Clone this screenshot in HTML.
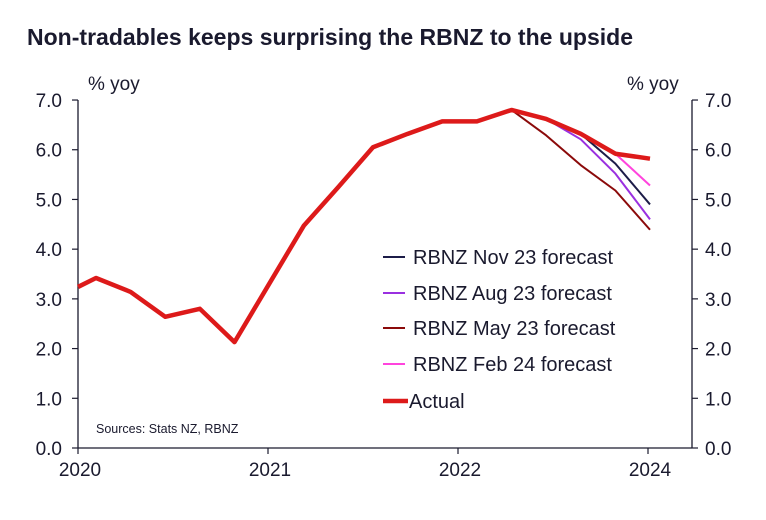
<!DOCTYPE html>
<html><head><meta charset="utf-8"><style>
body{margin:0;background:#fff;}
svg text{font-family:"Liberation Sans",sans-serif;fill:#1a1a2e;}
</style></head><body>
<svg width="766" height="515" viewBox="0 0 766 515" id="c">
<text x="27" y="45" font-size="23" style="font-weight:600" textLength="606" lengthAdjust="spacing">Non-tradables keeps surprising the RBNZ to the upside</text>
<text x="88" y="90" font-size="19">% yoy</text>
<text x="627" y="90" font-size="19">% yoy</text>
<text x="96" y="433" font-size="12.5">Sources: Stats NZ, RBNZ</text>
<g id="axes"></g><g id="lines"></g><g id="legend"></g>
</svg>
<script>
const quarterIdx=[-0.52,0,1,2,3,4,5,6,7,8,9,10,11,12,13,14,15,16];
const actual=[3.24,3.42,3.14,2.64,2.80,2.13,3.3,4.47,5.25,6.05,6.32,6.57,6.57,6.8,6.62,6.32,5.92,5.82];
const mayIdx=[12,13,14,15,16], mayVals=[6.8,6.29,5.69,5.18,4.39];
const augIdx=[13,14,15,16], augVals=[6.62,6.21,5.52,4.6];
const novIdx=[14,15,16], novVals=[6.32,5.72,4.9];
const febIdx=[15,16], febVals=[5.92,5.28];
const yTicks=[0,1,2,3,4,5,6,7];
const xTickLabels=["2020","2021","2022","2024"];
const xTickYears=[0,1,2,3];
const NS="http://www.w3.org/2000/svg";
const X0=78,X1=692,Y0=448,YS=49.71;
const xq=i=>96+i*34.625;
const xyr=k=>78+k*190;
const y=v=>Y0-v*YS;
function mk(t,a,p){const e=document.createElementNS(NS,t);for(const k in a)e.setAttribute(k,a[k]);(p||document.getElementById('axes')).appendChild(e);return e;}
let e=mk('line',{x1:X0,y1:y(7),x2:X0,y2:Y0,stroke:'#1a1a2e','stroke-width':1.3});


e=mk('line',{x1:X1,y1:y(7),x2:X1,y2:Y0,stroke:'#1a1a2e','stroke-width':1.3});


e=mk('line',{x1:X0,y1:Y0,x2:X1,y2:Y0,stroke:'#1a1a2e','stroke-width':1.3});


yTicks.forEach(v=>{
 mk('line',{x1:X0-6,y1:y(v),x2:X0,y2:y(v),stroke:'#1a1a2e','stroke-width':1.2});
 mk('line',{x1:X1,y1:y(v),x2:X1+6,y2:y(v),stroke:'#1a1a2e','stroke-width':1.2});
 let t=mk('text',{x:62,y:y(v)+7,'font-size':19,'text-anchor':'end'});t.textContent=v.toFixed(1);
 
 
 t=mk('text',{x:705,y:y(v)+7,'font-size':19});t.textContent=v.toFixed(1);
 
 
});
xTickYears.forEach((k,i)=>{
 mk('line',{x1:xyr(k),y1:Y0,x2:xyr(k),y2:Y0+6,stroke:'#1a1a2e','stroke-width':1.2});
 const t=mk('text',{x:xyr(k)+2,y:Y0+28,'font-size':19,'text-anchor':'middle'});t.textContent=xTickLabels[i];
 
 
});
const lg=document.getElementById('lines');
function line(idx,vals,col,w,name){
 const p=mk('polyline',{points:idx.map((i,j)=>xq(i)+','+y(vals[j])).join(' '),fill:'none',stroke:col,'stroke-width':w,'stroke-linejoin':'round'},lg);
 
 
}
line(mayIdx,mayVals,'#8b0a0a',2,'may-23-forecast-line');
line(augIdx,augVals,'#9a30e0',2,'aug-23-forecast-line');
line(novIdx,novVals,'#1c1c48',2,'nov-23-forecast-line');
line(febIdx,febVals,'#ff44dd',2,'feb-24-forecast-line');
line(quarterIdx,actual,'#dd1a1a',4.5,'actual-line');
const leg=document.getElementById('legend');
[['RBNZ Nov 23 forecast','#1c1c48',2,257],['RBNZ Aug 23 forecast','#9a30e0',2,293],['RBNZ May 23 forecast','#8b0a0a',2,328],['RBNZ Feb 24 forecast','#ff44dd',2,364],['Actual','#dd1a1a',4.5,401]].forEach(r=>{
 const g=mk('g',{},leg);
 
 
 mk('line',{x1:383,y1:r[3],x2:r[0]=='Actual'?408:405,y2:r[3],stroke:r[1],'stroke-width':r[2]},g);
 const t=mk('text',{x:r[0]=='Actual'?409:413,y:r[3]+7,'font-size':20},g);t.textContent=r[0];
});
</script>
</body></html>
